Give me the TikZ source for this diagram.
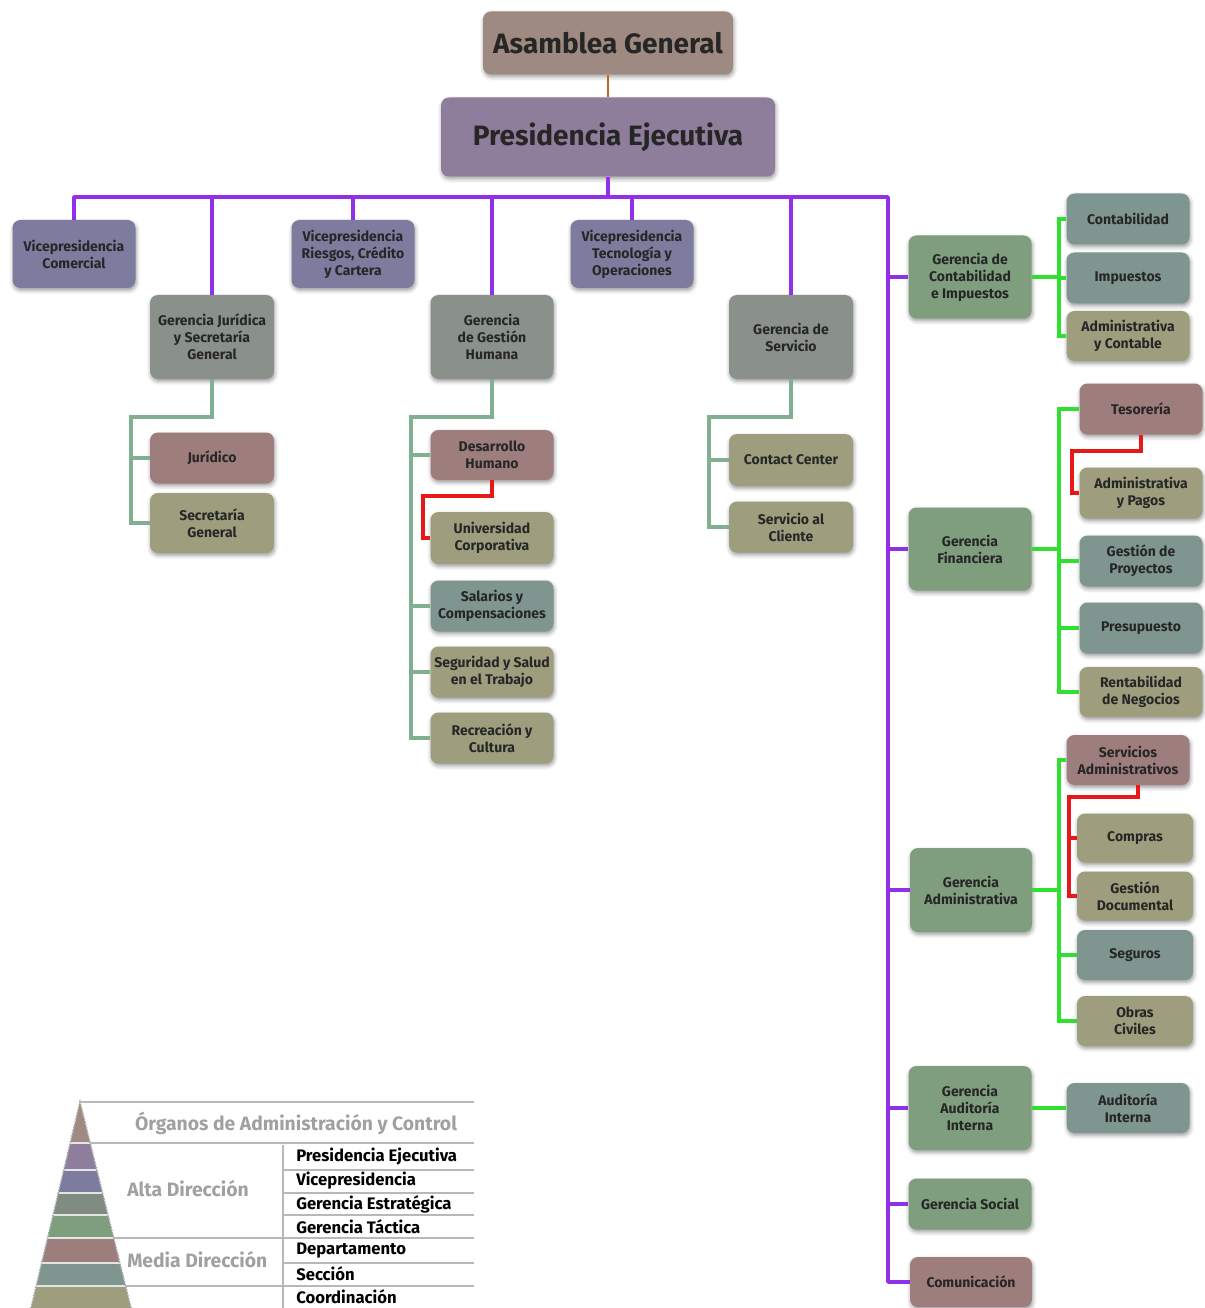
\documentclass[tikz,border=0pt]{standalone}
\usepackage{fontspec}
\setmainfont{Fira Sans}
\usetikzlibrary{calc,shadows.blur}
\definecolor{cAG}{HTML}{9E8A80}
\definecolor{cPE}{HTML}{8E7E9C}
\definecolor{cVP}{HTML}{7E7C9E}
\definecolor{cGG}{HTML}{8A918A}
\definecolor{cGR}{HTML}{7E9E7E}
\definecolor{cRB}{HTML}{9E7E7C}
\definecolor{cOL}{HTML}{9E9E7E}
\definecolor{cTE}{HTML}{7E968F}
\definecolor{cGX}{HTML}{7F8C7F}
\definecolor{txt}{HTML}{262626}
\definecolor{lpur}{HTML}{9030E8}
\definecolor{lgrn}{HTML}{30E030}
\definecolor{lsoft}{HTML}{80B090}
\definecolor{lred}{HTML}{E81818}
\definecolor{lorg}{HTML}{C8602E}
\definecolor{lgray}{HTML}{B8B8B8}
\definecolor{ltext}{HTML}{A0A0A0}
\tikzset{
 bx/.style={rounded corners=6pt, align=center, text=txt, inner sep=1pt,
   font=\bfseries\fontsize{10.5}{12.75}\selectfont,
   blur shadow={shadow xshift=0.6pt, shadow yshift=-1.8pt, shadow blur radius=3pt, shadow opacity=40}},
 sz/.style 2 args={minimum width=#1*0.75pt, minimum height=#2*0.75pt},
 big/.style={font=\bfseries\fontsize{21}{24}\selectfont},
 pl/.style={draw=lpur, line width=2.7pt},
 gl/.style={draw=lgrn, line width=2.7pt},
 sl/.style={draw=lsoft, line width=2.7pt},
 rl/.style={draw=lred, line width=2.7pt},
 lg/.style={draw=lgray, line width=1.8pt},
 legr/.style={anchor=west, font=\bfseries\fontsize{12.5}{14}\selectfont, text=black, inner sep=0pt},
 legg/.style={font=\bfseries\fontsize{14.5}{17}\selectfont, text=ltext, inner sep=0pt},
}
\begin{document}
\begin{tikzpicture}[x=0.75pt,y=-0.75pt]
\useasboundingbox (0,0) rectangle (1204,1308);
% top
\node[bx,big,fill=cAG,sz={250}{63}] (AG) at (608,43) {Asamblea General};
\node[bx,big,fill=cPE,sz={334}{79}] (PE) at (608,137) {Presidencia Ejecutiva};
% vicepresidencias
\node[bx,fill=cVP,sz={123}{68}] (VPC) at (74,254) {Vicepresidencia\\Comercial};
\node[bx,fill=cVP,sz={123}{68}] (VPR) at (353,254) {Vicepresidencia\\Riesgos, Crédito\\y Cartera};
\node[bx,fill=cVP,sz={123}{68}] (VPT) at (632,254) {Vicepresidencia\\Tecnología y\\Operaciones};
% gerencias estrategicas
\node[bx,fill=cGG,sz={124}{84}] (GJ) at (212,337) {Gerencia Jurídica\\y Secretaría\\General};
\node[bx,fill=cGG,sz={123}{84}] (GGH) at (492,337) {Gerencia\\de Gestión\\Humana};
\node[bx,fill=cGG,sz={124}{84}] (GS) at (791,337) {Gerencia de\\Servicio};
% children left
\node[bx,fill=cRB,sz={124}{51}] (Jur) at (212,458) {Jurídico};
\node[bx,fill=cOL,sz={124}{60}] (SecG) at (212,523) {Secretaría\\General};
\node[bx,fill=cRB,sz={123}{50}] (DH) at (492,455) {Desarrollo\\Humano};
\node[bx,fill=cOL,sz={123}{52}] (UC) at (492,538) {Universidad\\Corporativa};
\node[bx,fill=cTE,sz={123}{51}] (SC) at (492,606) {Salarios y\\Compensaciones};
\node[bx,fill=cOL,sz={123}{51}] (SST) at (492,672) {Seguridad y Salud\\en el Trabajo};
\node[bx,fill=cOL,sz={123}{51}] (RC) at (492,738) {Recreación y\\Cultura};
\node[bx,fill=cOL,sz={124}{52}] (CC) at (791,460) {Contact Center};
\node[bx,fill=cOL,sz={124}{51}] (SaC) at (791,527) {Servicio al\\Cliente};
% right gerencias
\node[bx,fill=cGR,sz={123}{83}] (GCI) at (970,277) {Gerencia de\\Contabilidad\\e Impuestos};
\node[bx,fill=cTE,sz={123}{51}] (Cont) at (1128,219) {Contabilidad};
\node[bx,fill=cTE,sz={123}{51}] (Imp) at (1128,278) {Impuestos};
\node[bx,fill=cOL,sz={123}{50}] (AyC) at (1128,336) {Administrativa\\y Contable};
\node[bx,fill=cGR,sz={123}{83}] (GF) at (970,549) {Gerencia\\Financiera};
\node[bx,fill=cRB,sz={123}{51}] (Tes) at (1141,409) {Tesorería};
\node[bx,fill=cOL,sz={123}{51}] (AyP) at (1141,493) {Administrativa\\y Pagos};
\node[bx,fill=cTE,sz={123}{51}] (GP) at (1141,561) {Gestión de\\Proyectos};
\node[bx,fill=cTE,sz={123}{51}] (Pres) at (1141,628) {Presupuesto};
\node[bx,fill=cOL,sz={123}{50}] (RN) at (1141,692) {Rentabilidad\\de Negocios};
\node[bx,fill=cGR,sz={122}{84}] (GA) at (971,890) {Gerencia\\Administrativa};
\node[bx,fill=cRB,sz={123}{50}] (SA) at (1128,760) {Servicios\\Administrativos};
\node[bx,fill=cOL,sz={116}{49}] (Comp) at (1135,838) {Compras};
\node[bx,fill=cOL,sz={116}{49}] (GD) at (1135,896) {Gestión\\Documental};
\node[bx,fill=cTE,sz={116}{50}] (Seg) at (1135,955) {Seguros};
\node[bx,fill=cOL,sz={116}{50}] (OC) at (1135,1021) {Obras\\Civiles};
\node[bx,fill=cGR,sz={123}{84}] (GAI) at (970,1108) {Gerencia\\Auditoría\\Interna};
\node[bx,fill=cTE,sz={123}{50}] (AI) at (1128,1108) {Auditoría\\Interna};
\node[bx,fill=cGR,sz={123}{51}] (GSoc) at (970,1204) {Gerencia Social};
\node[bx,fill=cRB,sz={122}{50}] (Com) at (971,1282) {Comunicación};
% helper coordinates
\coordinate (topR) at (888,197);
\coordinate (jx) at (131,417);
\coordinate (gx) at (411,417);
\coordinate (rx) at (423,496);
\coordinate (sx) at (709,417);
\coordinate (cx) at (1059,219);
\coordinate (tx) at (1072,451);
\coordinate (ax) at (1069,797);
% connectors
\draw[draw=lorg,line width=2.2pt] (AG.south) -- (PE.north);
\draw[pl,line join=round] (VPC.north) |- (topR) |- (Com.west);
\draw[pl] (PE.south) -- (PE.south |- topR);
\foreach \n in {GJ,VPR,GGH,VPT,GS} \draw[pl] (\n.north) -- (\n.north |- topR);
\foreach \n in {GCI,GF,GA,GAI,GSoc} \draw[pl] (topR |- \n.west) -- (\n.west);
% left soft green
\draw[sl] (GJ.south) |- (jx) |- (SecG.west);
\draw[sl] (jx |- Jur.west) -- (Jur.west);
\draw[sl] (GGH.south) |- (gx) |- (RC.west);
\foreach \n in {DH,SC,SST} \draw[sl] (gx |- \n.west) -- (\n.west);
\draw[rl] (DH.south) |- (rx) |- (UC.west);
\draw[sl] (GS.south) |- (sx) |- (SaC.west);
\draw[sl] (sx |- CC.west) -- (CC.west);
% right bright green
\draw[gl] (GCI.east) -- (GCI.east -| cx);
\draw[gl] (Cont.west) -| (cx |- AyC.west) -- (AyC.west);
\draw[gl] (cx |- Imp.west) -- (Imp.west);
\draw[gl] (GF.east) -- (GF.east -| cx);
\draw[gl] (Tes.west) -| (cx |- RN.west) -- (RN.west);
\foreach \n in {GP,Pres} \draw[gl] (cx |- \n.west) -- (\n.west);
\draw[rl] (Tes.south) |- (tx) |- (AyP.west);
\draw[gl] (GA.east) -- (GA.east -| cx);
\draw[gl] (SA.west) -| (cx |- OC.west) -- (OC.west);
\draw[gl] (cx |- Seg.west) -- (Seg.west);
\draw[rl] ($(SA.south)+(10,0)$) |- (ax) |- (GD.west);
\draw[rl] (ax |- Comp.west) -- (Comp.west);
\draw[gl] (GAI.east) -- (AI.west);
% legend pyramid
\begin{scope}
\clip (80,1102) -- (31,1308) -- (131,1308) -- cycle;
\fill[cAG] (0,1100) rectangle (140,1143);
\fill[cPE] (0,1143) rectangle (140,1170);
\fill[cVP] (0,1170) rectangle (140,1193);
\fill[cGX] (0,1193) rectangle (140,1215);
\fill[cGR] (0,1215) rectangle (140,1238);
\fill[cRB] (0,1238) rectangle (140,1263);
\fill[cTE] (0,1263) rectangle (140,1286);
\fill[cOL] (0,1286) rectangle (140,1310);
\foreach \y in {1143,1170,1193,1215,1238,1263,1286} \draw[white!80!gray,line width=0.8pt] (0,\y) -- (140,\y);
\end{scope}
\draw[gray!70,line width=1.2pt,densely dotted] (31,1308) -- (80,1102) -- (131,1308);
\coordinate (L0) at (80,1102);
\draw[lg] (L0) -- (474,1102);
\draw[lg] (90,1143) -- (474,1143);
\draw[lg] (113,1238) -- (474,1238);
\draw[lg] (125,1286) -- (474,1286);
\foreach \y in {1170,1193,1215,1263} \draw[lg] (283,\y) -- (474,\y);
\draw[lg] (283,1145) -- (283,1308);
\node[legg] (LT) at (296,1123) {Órganos de Administración y Control};
\node[legg,anchor=west] (LA) at (127,1189) {Alta Dirección};
\node[legg,anchor=west] (LM) at (127,1260) {Media Dirección};
\node[legr] (R1) at (296,1157) {Presidencia Ejecutiva};
\node[legr] (R2) at (296,1181) {Vicepresidencia};
\node[legr] (R3) at (296,1204) {Gerencia Estratégica};
\node[legr] (R4) at (296,1227) {Gerencia Táctica};
\node[legr] (R5) at (296,1251) {Departamento};
\node[legr] (R6) at (296,1274) {Sección};
\node[legr] (R7) at (296,1297) {Coordinación};
\end{tikzpicture}
\end{document}
